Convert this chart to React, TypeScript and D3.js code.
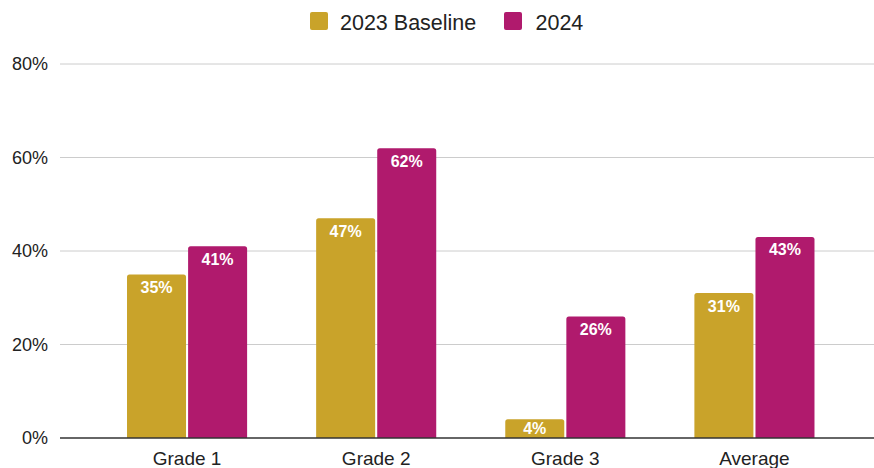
import React from "react";
import * as d3 from "d3";

const categories = ["Grade 1", "Grade 2", "Grade 3", "Average"];
const seriesNames = ["2023 Baseline", "2024"];
const baseline2023 = [35, 47, 4, 31];
const values2024 = [41, 62, 26, 43];
const yTicks = [0, 20, 40, 60, 80];
const colors = ["#C9A32A", "#B01A6D"];

export default function App() {
  const W = 874, H = 468;
  const left = 60, right = 874, top = 64, bottom = 438;
  const x = d3.scaleBand<string>().domain(categories).range([92.5, 849]).paddingInner(0.365).paddingOuter(0.1825);
  const x1 = d3.scaleBand<string>().domain(seriesNames).range([0, x.bandwidth()]).paddingInner(0.034);
  const y = d3.scaleLinear().domain([0, 80]).range([bottom, top]);
  const data = [baseline2023, values2024];
  const font = "Arial, 'Liberation Sans', sans-serif";

  const barPath = (x0: number, y0: number, w: number, h: number, r: number) => {
    const rr = Math.min(r, h / 2, w / 2);
    return `M${x0},${y0 + h} V${y0 + rr} Q${x0},${y0} ${x0 + rr},${y0} H${x0 + w - rr} Q${x0 + w},${y0} ${x0 + w},${y0 + rr} V${y0 + h} Z`;
  };

  return (
    <svg width={W} height={H} style={{ position: "absolute", left: 0, top: 0, background: "#fff" }} fontFamily={font}>
      {/* legend */}
      <g>
        <rect x={310} y={12} width={18} height={18} rx={2} fill={colors[0]} />
        <text x={340} y={29.5} fontSize={21.5} fill="#222">{seriesNames[0]}</text>
        <rect x={504} y={12} width={18} height={18} rx={2} fill={colors[1]} />
        <text x={535.5} y={29.5} fontSize={21.5} fill="#222">{seriesNames[1]}</text>
      </g>
      {/* gridlines */}
      {yTicks.map((t) => (
        <g key={t}>
          {t !== 0 && <line x1={left} x2={right} y1={y(t)} y2={y(t)} stroke="#cccccc" strokeWidth={1} />}
          <text x={48} y={y(t)} dy="0.36em" textAnchor="end" fontSize={18} fill="#222">{t}%</text>
        </g>
      ))}
      {/* bars */}
      {categories.map((c, i) => (
        <g key={c} transform={`translate(${x(c)},0)`}>
          {seriesNames.map((s, j) => {
            const v = data[j][i];
            const bx = x1(s)!;
            const by = y(v);
            const bw = x1.bandwidth();
            const ty = Math.min(by + 18.5, bottom - 4);
            return (
              <g key={s}>
                <path d={barPath(bx, by, bw, bottom - by, 2.5)} fill={colors[j]} />
                <text x={bx + bw / 2} y={ty} textAnchor="middle" fontSize={16} fontWeight="bold" fill="#fff">{v}%</text>
              </g>
            );
          })}
          <text x={x.bandwidth() / 2} y={465} textAnchor="middle" fontSize={19} fill="#222">{c}</text>
        </g>
      ))}
      <line x1={left} x2={right} y1={bottom} y2={bottom} stroke="#333" strokeWidth={1.3} />
    </svg>
  );
}
